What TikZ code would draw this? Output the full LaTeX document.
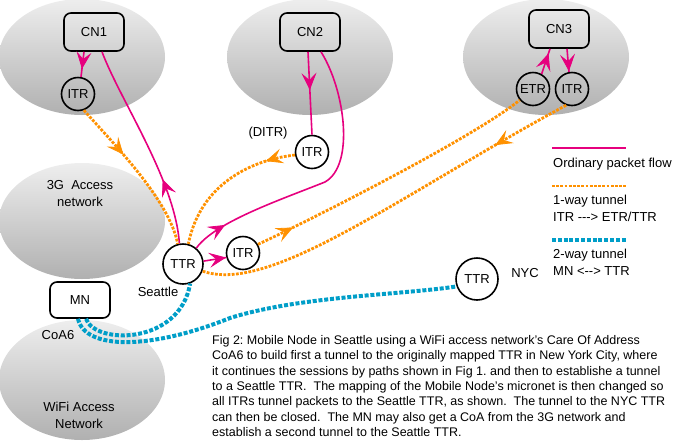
\documentclass[tikz,border=0pt]{standalone}
\usepackage{fontspec}
\setmainfont{Liberation Sans}
\usepackage{tikz}
\usetikzlibrary{positioning, calc, shapes, arrows.meta, decorations.markings}

\definecolor{pktflow}{RGB}{230,0,126}
\definecolor{tunorange}{RGB}{255,145,0}
\definecolor{tunblue}{RGB}{0,158,200}
\definecolor{nettop}{RGB}{238,238,238}
\definecolor{netbot}{RGB}{176,176,176}

\tikzset{
  net/.style={ellipse, minimum width=166, minimum height=116, top color=nettop, bottom color=netbot, draw=none},
  host/.style={draw, line width=1.6, rounded corners=7, minimum width=60, minimum height=38},
  router/.style={draw, circle, line width=1.6, minimum size=33, inner sep=0},
  flow/.style={pktflow, line width=1.6},
  tunnel/.style={tunorange, line width=2.8, dash pattern=on 2.8pt off 1.4pt},
  twoway/.style={tunblue, line width=4, dash pattern=on 4pt off 1.8pt},
  mid arrow/.style={postaction={decorate, decoration={markings, 
    mark=at position #1 with {\arrow[line width=0.8pt]{Stealth[length=17pt, width=15pt, inset=7pt]}}}}}
}

\begin{document}
\begin{tikzpicture}[x=1pt, y=-1pt, font=\fontsize{13}{16}\selectfont]
      \useasboundingbox (0,0) rectangle (680,440);
      % networks
      \node[net] (net1) at (82,57) {};
      \node[net] (net2) at (310,57) {};
      \node[net] (net3) at (546,57) {};
      \node[net] (net3g) at (82,221) {};
      \node[net, minimum height=120] (netwifi) at (82,380) {};
      \node[align=center, font=\fontsize{13}{17}\selectfont] (lbl3g) at (80,194) {3G\ \ Access\\network};
      \node[align=center, font=\fontsize{13}{17}\selectfont] (lblwifi) at (79,415) {WiFi Access\\Network};

      \node[host] (cn1) at (94,32) {CN1};
      \node[host] (cn2) at (310,32) {CN2};
      \node[host] (cn3) at (559,29) {CN3};
      \node[host, minimum height=36] (mn) at (80,300) {MN};

      \node[router] (itr1) at (78,94) {ITR};
      \node[router] (itr2) at (312,152) {ITR};
      \node[router] (etr3) at (533,89) {ETR};
      \node[router] (itr3) at (572,89) {ITR};
      \node[router] (itrm) at (243,253) {ITR};
      \node[router, minimum size=40] (ttrs) at (183,264) {TTR};
      \node[router, minimum size=42] (ttrn) at (477,279) {TTR};

      \node (ditr) at (268,133) {(DITR)};
      \node (seattle) at (158,292) {Seattle};
      \node (nyc) at (525,273) {NYC};
      \node (coa) at (58,335) {CoA6};
      %

      \draw[flow, mid arrow=0.68] ([xshift=-10]cn1.south) -- (itr1.80);
      \draw[flow, mid arrow=0.32] (ttrs.100) 
      .. controls (175,180) and (120,100) .. ([xshift=8]cn1.south);
      \draw[flow, mid arrow=0.46] ([xshift=-2]cn2.south) -- (itr2.north);
      \draw[flow, mid arrow=0.13] (ttrs.50) 
      .. controls (215,222) and (280,200) .. (325,182) 
      .. controls (355,165) and (345,90) .. ([xshift=11]cn2.south);
      \draw[flow, mid arrow=0.82] (etr3.60) -- ([xshift=-9]cn3.south);
      \draw[flow, mid arrow=0.97] ([xshift=8]cn3.south) -- (itr3.100);
      \draw[flow, mid arrow=0.99] (ttrs.8) -- (itrm.195);

      \draw[tunnel, mid arrow=0.36] (itr1.-70) 
      .. controls (110,140) and (170,200) .. (ttrs.105);
      \draw[tunnel, mid arrow=0.2] (itr2.190) 
      .. controls (250,160) and (200,185) .. (ttrs.75);
      \draw[tunnel, mid arrow=0.13] (itrm.30) 
      .. controls (300,225) and (470,140) .. (etr3.220);
      \draw[tunnel, mid arrow=0.2] (itr3.250) 
      .. controls (400,195) and (270,295) .. (ttrs.-20);

      \draw[twoway] ([xshift=6]mn.south) 
      .. controls (95,345) and (180,345) .. (ttrs.-70);
      \draw[twoway] ([xshift=-2]mn.south) 
      .. controls (85,350) and (150,350) .. (230,318) 
      .. controls (300,296) and (400,295) .. (ttrn.200);

      % legend
      \coordinate (key1a) at (552,148);
      \coordinate (key1b) at (626,148);
      \coordinate (key2a) at (552,186);
      \coordinate (key2b) at (626,186);
      \coordinate (key3a) at (552,240);
      \coordinate (key3b) at (626,240);
      \draw[flow] (key1a) -- (key1b);
      \draw[tunnel] (key2a) -- (key2b);
      \draw[twoway] (key3a) -- (key3b);
      \node[anchor=north west, inner sep=0] (key1) at (553,157.5) {Ordinary packet flow};
      \node[anchor=north west, inner sep=0, align=left, font=\fontsize{13}{17}\selectfont] (key2) at (553,194.5) 
      {1-way tunnel\\ITR \mbox{-}\mbox{-}\mbox{-}> ETR/TTR};
      \node[anchor=north west, inner sep=0, align=left, font=\fontsize{13}{17}\selectfont] (key3) at (553,248.5) 
      {2-way tunnel\\MN <\mbox{-}\mbox{-}> TTR};

      \node[anchor=north west, inner sep=0, align=left, font=\fontsize{12.5}{15.4}\selectfont\frenchspacing] (caption) at (212,335) 
      {Fig 2: Mobile Node in Seattle using a WiFi access network's Care Of Address\\
      CoA6 to build first a tunnel to the originally mapped TTR in New York City, where\\
      it continues the sessions by paths shown in Fig 1. and then to establishe a tunnel\\
      to a Seattle TTR.\ \ The mapping of the Mobile Node's micronet is then changed so\\
      all ITRs tunnel packets to the Seattle TTR, as shown.\ \ The tunnel to the NYC TTR\\
      can then be closed.\ \ The MN may also get a CoA from the 3G network and\\
      establish a second tunnel to the Seattle TTR.};
  \end{tikzpicture}
\end{document}
